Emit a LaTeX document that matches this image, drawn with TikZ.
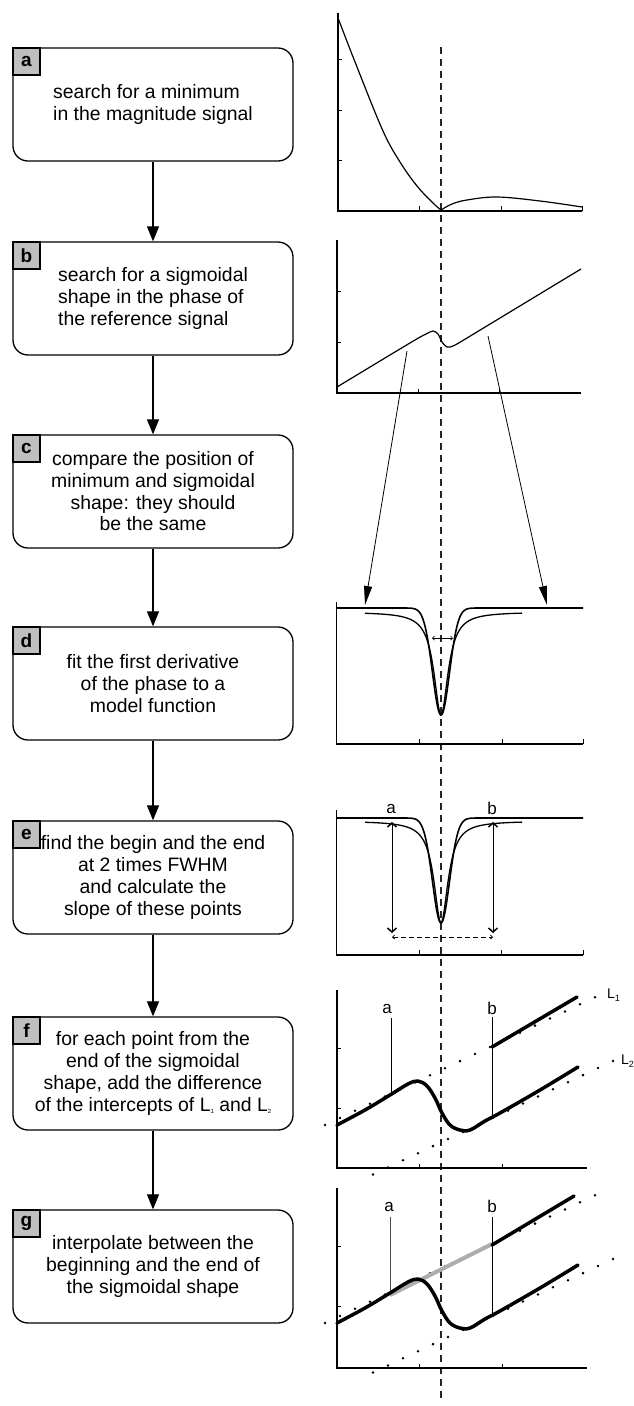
\documentclass[tikz,border=0pt]{standalone}
\usepackage{fontspec}
\setmainfont{Liberation Sans}
\usetikzlibrary{arrows.meta}
\newcommand{\tinysub}[1]{\raisebox{-2.5pt}{\fontsize{6}{6}\selectfont #1}}
\newcommand{\lsub}[1]{\raisebox{-3pt}{\fontsize{9}{9}\selectfont #1}}
\begin{document}
\begin{tikzpicture}[x=1pt,y=-1pt,
  stepbox/.style={draw, line width=1.3pt, rounded corners=15pt, minimum width=280pt, minimum height=113pt, inner sep=0pt, font=\fontsize{19.4}{21.7}\selectfont, align=center},
  tagbox/.style={draw, fill=black!25, line width=1.3pt, minimum width=27pt, minimum height=27pt, inner sep=0pt, anchor=north west, font=\fontsize{19}{19}\selectfont\bfseries},
  flow/.style={line width=1.2pt, -{Triangle[length=15pt,width=12pt]}},
  axisline/.style={line width=1.8pt},
  thinaxis/.style={line width=1pt},
  tickmark/.style={line width=1pt},
  curveline/.style={line width=1.2pt},
  thickcurve/.style={line width=3.5pt, line cap=round, line join=round},
  guide/.style={line width=0.8pt},
  pointer/.style={line width=0.8pt, -{Triangle[length=19pt,width=8pt]}},
  vdbl/.style={line width=0.8pt, {Straight Barb[length=4pt,width=9pt,line width=1.5pt]}-{Straight Barb[length=4pt,width=9pt,line width=1.5pt]}},
  ptdot/.style={fill=black},
  plotlabel/.style={font=\fontsize{17}{17}\selectfont, inner sep=0pt},
  lname/.style={font=\fontsize{14}{14}\selectfont, inner sep=0pt, anchor=base west},
  markerline/.style={dash pattern=on 7pt off 5pt, line width=1.4pt, black!85}
]
\useasboundingbox (0,0) rectangle (634,1406);

% ---------------- flow chart ----------------
\node[stepbox, align=left] (boxa) at (153,104.5) {search for a minimum\\in the magnitude signal};
\node[stepbox, align=left] (boxb) at (153,298.5) {search for a sigmoidal\\shape in the phase of\\the reference signal};
\node[stepbox] (boxc) at (153,491.5) {compare the position of\\minimum and sigmoidal\\shape: they should\\be the same};
\node[stepbox] (boxd) at (153,683.5) {fit the first derivative\\of the phase to a\\model function};
\node[stepbox] (boxe) at (153,877.5) {find the begin and the end\\at 2 times FWHM\\and calculate the\\slope of these points};
\node[stepbox] (boxf) at (153,1073.5) {for each point from the\\end of the sigmoidal\\shape, add the difference\\of the intercepts of L\tinysub{1} and L\tinysub{2}};
\node[stepbox] (boxg) at (153,1266.5) {interpolate between the\\beginning and the end of\\the sigmoidal shape};

\node[tagbox] (taga) at (boxa.north west) {a};
\node[tagbox] (tagb) at (boxb.north west) {b};
\node[tagbox] (tagc) at (boxc.north west) {c};
\node[tagbox] (tagd) at (boxd.north west) {d};
\node[tagbox] (tage) at (boxe.north west) {e};
\node[tagbox] (tagf) at (boxf.north west) {f};
\node[tagbox] (tagg) at (boxg.north west) {g};

\draw[flow] (boxa.south) -- (boxb.north);
\draw[flow] (boxb.south) -- (boxc.north);
\draw[flow] (boxc.south) -- (boxd.north);
\draw[flow] (boxd.south) -- (boxe.north);
\draw[flow] (boxe.south) -- (boxf.north);
\draw[flow] (boxf.south) -- (boxg.north);

% ---------------- dashed marker ----------------
\coordinate (mtop) at (441,47);
\coordinate (mbot) at (441,1402);
\draw[markerline] (mtop) -- (mbot);

% ---------------- plot a ----------------
\draw[axisline] (338,13) -- (338,211) -- (582,211);
\foreach \yy in {59,110,160} \draw[tickmark] (338,\yy) -- (342,\yy);
\foreach \xx in {419,501,582} \draw[tickmark] (\xx,211) -- (\xx,206);
\draw[curveline] plot[smooth, tension=0.6] coordinates {(338,18) (357,67) (383,131) (400,162) (417,186) (433,203) (441,210)};
\draw[curveline] plot[smooth, tension=0.6] coordinates {(441,210) (452,204) (467,200) (497,197) (540,201) (582,207)};

% ---------------- plot b ----------------
\draw[axisline] (337,240) -- (337,393) -- (581,393);
\foreach \yy in {291,342} \draw[tickmark] (337,\yy) -- (341,\yy);
\foreach \xx in {418,499} \draw[tickmark] (\xx,393) -- (\xx,389);
\draw[curveline] plot[smooth, tension=0.5] coordinates {(337,387) (380,361) (415,340) (426,334) (433,331) (438,334) (442,342) (447,347) (453,346) (462,341) (500,318) (581,269)};

\coordinate (blfrom) at (407,351);
\coordinate (blto) at (365,605);
\coordinate (brfrom) at (488,336);
\coordinate (brto) at (547,605);
\draw[pointer] (blfrom) -- (blto);
\draw[pointer] (brfrom) -- (brto);

% ---------------- plot d ----------------
\draw[thinaxis] (336,602) -- (336,744);
\draw[axisline] (336,744) -- (583,744);
\foreach \xx in {419,502,583} \draw[tickmark] (\xx,744) -- (\xx,739);
\draw[line width=1.6pt] (336,608) -- (400,608) -- plot[domain=400:482, samples=90] (\x, {608+107*exp(-((\x-441)/12)*((\x-441)/12))}) -- (583,608);
\draw[line width=1.3pt] plot[domain=365:522, samples=140] (\x, {612+103/(1+((\x-441)/8.5)*((\x-441)/8.5))});
\coordinate (fwl) at (432,638);
\coordinate (fwr) at (453,638);
\draw[line width=0.7pt, {Straight Barb[length=2pt,width=4pt]}-{Straight Barb[length=2pt,width=4pt]}] (fwl) -- (fwr);

% ---------------- plot e ----------------
\draw[thinaxis] (336,810) -- (336,955);
\draw[axisline] (336,955) -- (583,955);
\foreach \xx in {419,501,583} \draw[tickmark] (\xx,955) -- (\xx,950);
\draw[line width=1.6pt] (336,818) -- (400,818) -- plot[domain=400:482, samples=90] (\x, {818+105*exp(-((\x-441)/12)*((\x-441)/12))}) -- (583,818);
\draw[line width=1.3pt] plot[domain=365:522, samples=140] (\x, {821+102/(1+((\x-441)/8.5)*((\x-441)/8.5))});
\coordinate (eat) at (392,822);
\coordinate (eab) at (392,933);
\coordinate (ebt) at (493,822);
\coordinate (ebb) at (493,933);
\draw[vdbl] (eat) -- (eab);
\draw[vdbl] (ebt) -- (ebb);
\coordinate (ehl) at (392,937);
\coordinate (ehr) at (493,937);
\draw[line width=0.8pt, dash pattern=on 5pt off 3pt, {Straight Barb[length=2pt,width=4pt]}-{Straight Barb[length=2pt,width=4pt]}] (ehl) -- (ehr);
\node[plotlabel] (ea) at (391,809) {a};
\node[plotlabel] (eb) at (492,808) {b};

% ---------------- plot f ----------------
\draw[axisline] (337,990) -- (337,1168) -- (587,1168);
\foreach \yy in {1048,1108} \draw[tickmark] (337,\yy) -- (341,\yy);
\foreach \xx in {419,502} \draw[tickmark] (\xx,1168) -- (\xx,1164);
\foreach \i in {0,...,18} \fill[ptdot] ({325+15*\i},{1125-7.1*\i}) circle (1.4pt);
\foreach \i in {0,...,16} \fill[ptdot] ({373+15*\i},{1174.5-7.1*\i}) circle (1.4pt);
\draw[guide] (391,1018) -- (391,1095);
\draw[guide] (492,1017) -- (492,1117);
\draw[thickcurve] plot[smooth, tension=0.6] coordinates {(337,1125) (365,1110) (390,1095) (408,1084) (418,1081) (427,1086) (435,1098) (442,1113) (450,1125) (460,1130) (470,1130) (485,1121) (500,1113) (540,1090) (578,1067)};
\draw[thickcurve] (492,1047) -- (577,997);
\node[plotlabel] (fa) at (387,1009) {a};
\node[plotlabel] (fb) at (492,1008) {b};
\node[lname] (lone) at (607,998) {L\lsub{1}};
\node[lname] (ltwo) at (621,1064) {L\lsub{2}};

% ---------------- plot g ----------------
\begin{scope}[shift={(0,198)}]
\draw[axisline] (337,990) -- (337,1170) -- (587,1170);
\foreach \yy in {1048,1108} \draw[tickmark] (337,\yy) -- (341,\yy);
\foreach \xx in {419,502} \draw[tickmark] (\xx,1170) -- (\xx,1166);
\foreach \i in {0,...,18} \fill[ptdot] ({325+15*\i},{1125-7.1*\i}) circle (1.4pt);
\foreach \i in {0,...,16} \fill[ptdot] ({373+15*\i},{1174.5-7.1*\i}) circle (1.4pt);
\draw[guide, black!70] (390,1019) -- (390,1097);
\draw[guide] (492,1019) -- (492,1117);
\draw[line width=4pt, black!32] (390,1097) -- (492,1046);
\draw[thickcurve] plot[smooth, tension=0.6] coordinates {(337,1125) (365,1110) (390,1095) (408,1084) (418,1081) (427,1086) (435,1098) (442,1113) (450,1125) (460,1130) (470,1130) (485,1121) (500,1113) (540,1090) (578,1067)};
\draw[thickcurve] (492,1047) -- (574,998);
\node[plotlabel] (ga) at (389,1009) {a};
\node[plotlabel] (gb) at (492,1008) {b};
\end{scope}
\end{tikzpicture}
\end{document}
